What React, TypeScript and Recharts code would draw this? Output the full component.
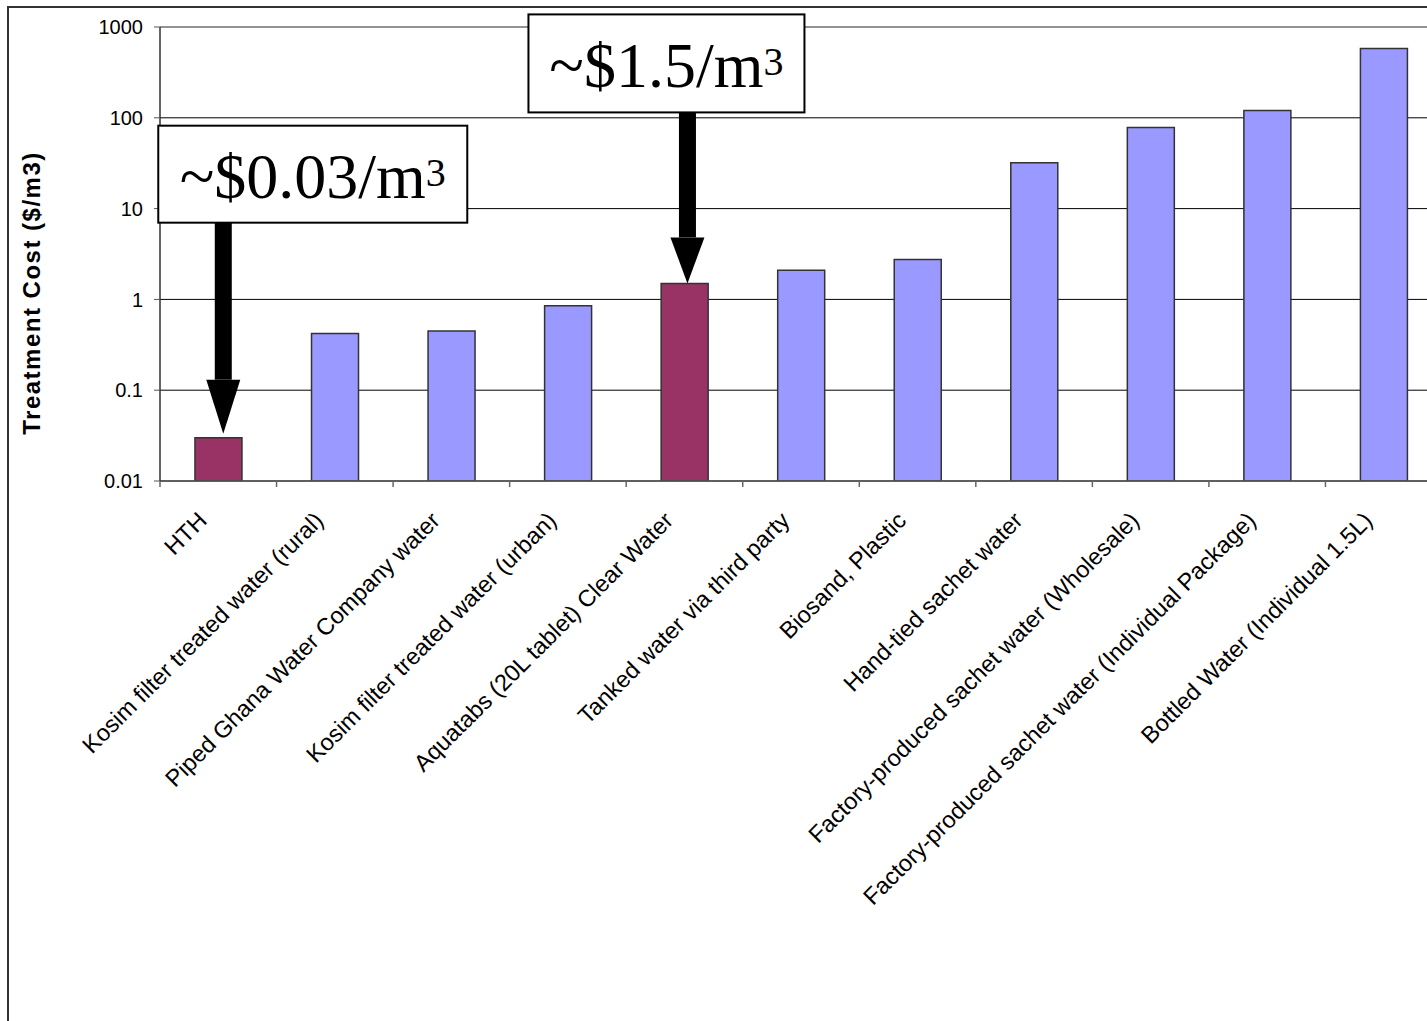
import { BarChart, Bar, Cell, XAxis, YAxis, CartesianGrid, ReferenceLine, ReferenceDot } from "recharts"

const categories = [
  "HTH",
  "Kosim filter treated water (rural)",
  "Piped Ghana Water Company water",
  "Kosim filter treated water (urban)",
  "Aquatabs (20L tablet) Clear Water",
  "Tanked water via third party",
  "Biosand, Plastic",
  "Hand-tied sachet water",
  "Factory-produced sachet water (Wholesale)",
  "Factory-produced sachet water (Individual Package)",
  "Bottled Water (Individual 1.5L)",
]
const costs = [0.03, 0.42, 0.45, 0.85, 1.5, 2.1, 2.75, 32, 78, 120, 580]
const highlighted = ["HTH", "Aquatabs (20L tablet) Clear Water"]
const yTicks = [0.01, 0.1, 1, 10, 100, 1000]

const callouts = [
  { category: "HTH", value: 0.03, text: "~$0.03/m", sup: "3" },
  { category: "Aquatabs (20L tablet) Clear Water", value: 1.5, text: "~$1.5/m", sup: "3" },
]

const data = categories.map((name, i) => ({ name, cost: costs[i] }))

// layout
const W = 1442
const H = 1021
const M = { top: 27, right: 0, bottom: 40, left: 100 }
const Y_AXIS_W = 60
const BAND = (W - M.left - M.right - Y_AXIS_W) / categories.length
const SANS = "'Liberation Sans', Arial, sans-serif"
const SERIF = "'Liberation Serif', 'Times New Roman', serif"

// box / arrow offsets relative to the bar top (cx, cy)
const calloutLayout = [
  { boxL: -60, boxR: 249, boxT: -312, boxB: -215, arrowDx: 5, headT: -58, tip: -4 },
  { boxL: -156, boxR: 120, boxT: -269, boxB: -171, arrowDx: 3, headT: -46, tip: 0 },
]

function CategoryTick({ x, y, payload }: any) {
  const edge = x - BAND / 2
  const tx = x - 10
  const ty = y + 41
  return (
    <g>
      <line x1={edge} y1={y} x2={edge} y2={y + 6} stroke="#666" strokeWidth={1.5} />
      <text
        x={tx}
        y={ty}
        transform={`rotate(-45, ${tx}, ${ty})`}
        textAnchor="end"
        fontSize={23.5}
        fontFamily={SANS}
        fill="#000"
      >
        {payload.value}
      </text>
    </g>
  )
}

function Callout({ cx, cy, idx }: any) {
  const c = callouts[idx]
  const l = calloutLayout[idx]
  const ax = cx + l.arrowDx
  const boxX = cx + l.boxL
  const boxY = cy + l.boxT
  const boxW = l.boxR - l.boxL
  const boxH = l.boxB - l.boxT
  return (
    <g>
      <rect x={ax - 8.5} y={cy + l.boxB} width={17} height={l.headT - l.boxB} fill="#000" />
      <polygon points={`${ax - 17},${cy + l.headT} ${ax + 17},${cy + l.headT} ${ax},${cy + l.tip}`} fill="#000" />
      <rect x={boxX} y={boxY} width={boxW} height={boxH} fill="#fff" stroke="#000" strokeWidth={2} />
      <text x={boxX + boxW / 2} y={cy + l.boxB - 25} textAnchor="middle" fontFamily={SERIF} fontSize={64} fill="#000">
        {c.text}
        <tspan fontSize={40} dy={-12}>{c.sup}</tspan>
      </text>
    </g>
  )
}

export default function App() {
  return (
    <div style={{ position: "fixed", left: 0, top: 0, width: 1427, height: 1021, overflow: "hidden", background: "#fff" }}>
      <div style={{ position: "absolute", left: 7, top: 6, width: 1500, height: 1100, border: "2px solid #333" }} />
      <div style={{ position: "absolute", left: 0, top: 0 }}>
        <BarChart width={W} height={H} data={data} margin={M} barCategoryGap="30%">
          <CartesianGrid vertical={false} stroke="#000" strokeWidth={1} />
          <ReferenceLine y={1000} stroke="#999" strokeWidth={1.5} />
          <XAxis
            dataKey="name"
            interval={0}
            height={500}
            tickLine={false}
            tickSize={0}
            tickMargin={0}
            axisLine={{ stroke: "#555", strokeWidth: 1.5 }}
            tick={<CategoryTick />}
          />
          <YAxis
            scale="log"
            domain={[0.01, 1000]}
            ticks={yTicks}
            allowDataOverflow
            width={Y_AXIS_W}
            tickSize={6}
            tickMargin={11}
            tickLine={{ stroke: "#555" }}
            axisLine={{ stroke: "#333", strokeWidth: 1.5 }}
            tick={{ fontSize: 20, fill: "#000", fontFamily: SANS }}
            label={{
              content: ({ viewBox }: any) => {
                const lx = viewBox.x - 69
                const ly = viewBox.y + viewBox.height / 2 + 39
                return (
                  <text
                    x={lx}
                    y={ly}
                    transform={`rotate(-90, ${lx}, ${ly})`}
                    textAnchor="middle"
                    dominantBaseline="central"
                    fontSize={24}
                    fontWeight="bold"
                    letterSpacing={1.5}
                    fontFamily={SANS}
                    fill="#000"
                  >
                    Treatment Cost ($/m3)
                  </text>
                )
              },
            }}
          />
          <Bar dataKey="cost" stroke="#333" strokeWidth={1.5} isAnimationActive={false}>
            {data.map((d) => (
              <Cell key={d.name} fill={highlighted.includes(d.name) ? "#993366" : "#9999FF"} />
            ))}
          </Bar>
          {callouts.map((c, i) => (
            <ReferenceDot
              key={c.category}
              x={c.category}
              y={c.value}
              r={0}
              shape={(p: any) => <Callout {...p} idx={i} />}
            />
          ))}
        </BarChart>
      </div>
    </div>
  )
}
